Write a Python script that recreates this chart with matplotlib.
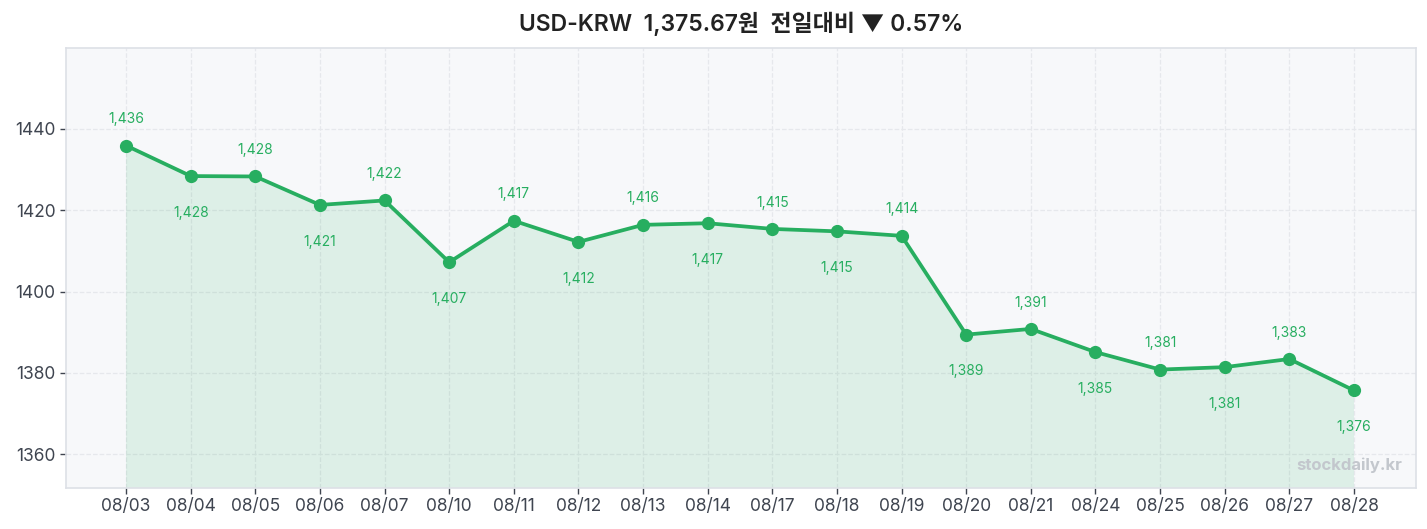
import matplotlib
matplotlib.use("Agg")
import matplotlib.pyplot as plt
import numpy as np

plt.rcParams['font.family'] = ['Inter', 'Noto Sans CJK KR', 'DejaVu Sans']

# data
dates = ['08/03', '08/04', '08/05', '08/06', '08/07', '08/10', '08/11', '08/12',
         '08/13', '08/14', '08/17', '08/18', '08/19', '08/20', '08/21', '08/24',
         '08/25', '08/26', '08/27', '08/28']
rates = [1435.9, 1428.4, 1428.3, 1421.3, 1422.4, 1407.2, 1417.4, 1412.2,
         1416.4, 1416.8, 1415.4, 1414.8, 1413.7, 1389.4, 1390.8, 1385.1,
         1380.8, 1381.4, 1383.4, 1375.67]
title = 'USD-KRW  1,375.67원  전일대비 ▼ 0.57%'

green = '#27ae60'
x = np.arange(len(dates))

fig = plt.figure(figsize=(14.27, 5.29), dpi=100)
ax = fig.add_axes([66/1427, 1 - 488/529, 1350/1427, 440/529])
ax.set_facecolor('#f7f8fa')

ax.fill_between(x, rates, 1300, color=green, alpha=0.12, linewidth=0)
ax.plot(x, rates, color=green, linewidth=2.7, marker='o', markersize=8.5, zorder=3)

for i, v in enumerate(rates):
    off = 19 if i % 2 == 0 else -26.5
    ax.annotate(f'{v:,.0f}', (x[i], v), xytext=(0, off), textcoords='offset points',
                ha='center', va='center', fontsize=10, color=green)

ax.set_xlim(-0.93, 19.96)
ax.set_ylim(min(rates) - 24, max(rates) + 24)
ax.set_xticks(x)
ax.set_xticklabels(dates)
ax.set_yticks([1360, 1380, 1400, 1420, 1440])
ax.tick_params(axis='both', labelsize=12.5, colors='#3f4550', length=4, width=1)
ax.grid(True, linestyle='--', color='#e6e8ec', linewidth=0.9)
ax.set_axisbelow(True)
for s in ax.spines.values():
    s.set_color('#dde0e6')
    s.set_linewidth(1.2)

ax.text(0.99, 0.035, 'stockdaily.kr', transform=ax.transAxes, ha='right', va='bottom',
        fontsize=12, fontweight='bold', color='#c3c7cd')

ax.set_title(title, fontsize=16.5, fontweight='semibold', color='#222222', pad=12)

fig.savefig('out.png', dpi=100)
